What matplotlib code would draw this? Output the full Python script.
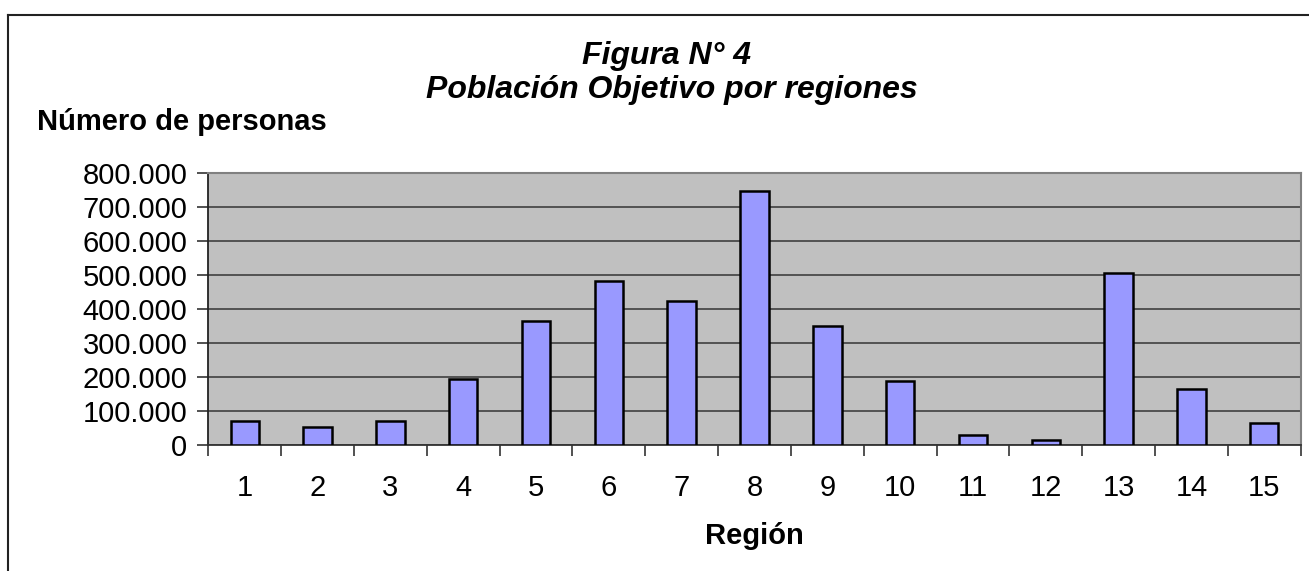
import matplotlib
matplotlib.use("Agg")
import matplotlib.pyplot as plt
from matplotlib.ticker import FuncFormatter, FixedLocator
from matplotlib.lines import Line2D
import numpy as np

plt.rcParams['font.family'] = ['Liberation Sans', 'DejaVu Sans']

regions = [str(i) for i in range(1, 16)]
personas = [71500, 54000, 71500, 195000, 365000, 483000, 424000, 746000,
            349000, 189000, 30000, 14000, 506000, 165000, 66000]
yticks = [0, 100000, 200000, 300000, 400000, 500000, 600000, 700000, 800000]

W, H = 1309, 571
fig = plt.figure(figsize=(W / 100, H / 100), dpi=100)
ax = fig.add_axes([208.3 / W, 1 - 445 / H, (1300.7 - 208.3) / W, (445 - 172.7) / H])

x = np.arange(len(regions))
ax.set_facecolor('#C0C0C0')
ax.bar(x, personas, width=0.39, color='#9999FF', edgecolor='black', linewidth=1.8, zorder=3)

ax.set_xlim(-0.5, len(regions) - 0.5)
ax.set_ylim(0, 800000)
ax.set_yticks(yticks)
ax.yaxis.set_major_formatter(FuncFormatter(lambda v, p: f"{int(v):,}".replace(",", ".")))
ax.grid(axis='y', color='#4a4a4a', linewidth=1.3, zorder=1)
ax.set_axisbelow(True)

# x ticks at category boundaries, labels at centres
ax.xaxis.set_major_locator(FixedLocator(np.arange(-0.5, len(regions), 1.0)))
ax.xaxis.set_major_formatter(FuncFormatter(lambda v, p: ""))
ax.xaxis.set_minor_locator(FixedLocator(x))
ax.set_xticklabels(regions, minor=True)
ax.tick_params(axis='x', which='major', length=8, width=1.2, color='#333333')
ax.tick_params(axis='x', which='minor', length=0, pad=21, labelsize=21)
ax.tick_params(axis='y', which='major', length=8, width=1.2, color='#333333', pad=7, labelsize=21)

for side in ['top', 'right']:
    ax.spines[side].set_color('#808080')
    ax.spines[side].set_linewidth(1.5)
ax.spines['left'].set_color('#222222')
ax.spines['left'].set_linewidth(1.3)
ax.spines['bottom'].set_color('#333333')
ax.spines['bottom'].set_linewidth(1.3)

ax.set_xlabel('Región', fontsize=21, fontweight='bold', labelpad=14)

fig.text(666 / W, 1 - 64 / H, 'Figura N° 4', ha='center', va='baseline',
         fontsize=23, fontweight='bold', fontstyle='italic')
fig.text(672 / W, 1 - 98 / H, 'Población Objetivo por regiones', ha='center', va='baseline',
         fontsize=23, fontweight='bold', fontstyle='italic')
fig.text(37 / W, 1 - 130 / H, 'Número de personas', ha='left', va='baseline',
         fontsize=21, fontweight='bold')

# chart frame (top and left edges visible)
fig.add_artist(Line2D([8.3 / W, 8.3 / W], [0, 1 - 15 / H], transform=fig.transFigure,
                      color='#222222', linewidth=1.5))
fig.add_artist(Line2D([8.3 / W, 1], [1 - 15 / H, 1 - 15 / H], transform=fig.transFigure,
                      color='#222222', linewidth=1.5))

fig.savefig('out.png', dpi=100, facecolor='white')
